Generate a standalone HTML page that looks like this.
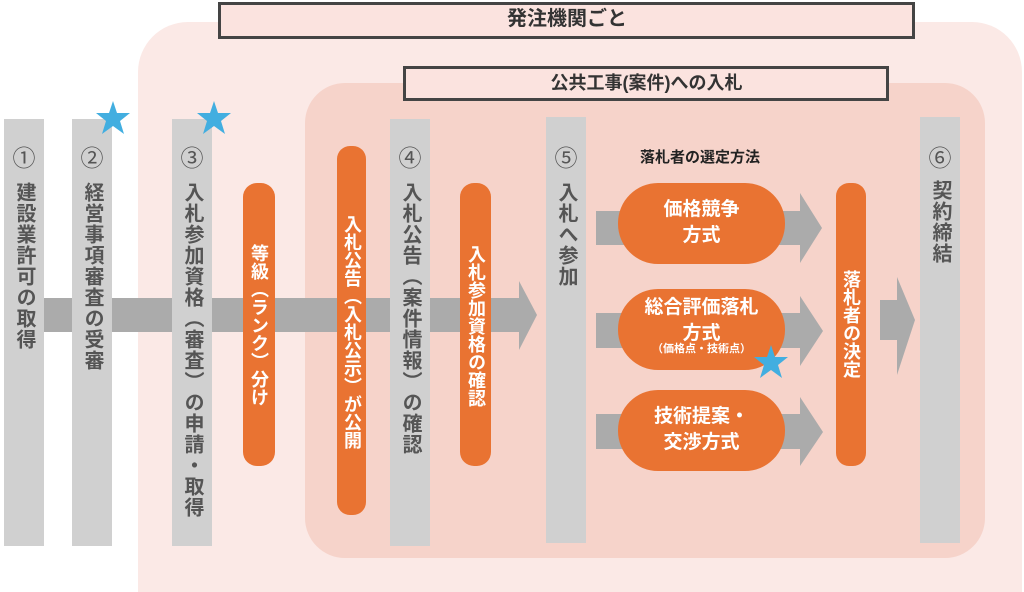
<!DOCTYPE html>
<html style="overflow:hidden"><head><meta charset="utf-8"><style>
html,body{margin:0;width:1024px;height:592px;overflow:hidden}
body{position:relative;background:#fff;font-family:"Liberation Sans","Noto Sans CJK JP",sans-serif;}
.a{position:absolute}
.v{position:absolute;writing-mode:vertical-rl;text-orientation:upright;font-weight:bold;white-space:nowrap}
.g{color:#555;font-size:20px;line-height:40px;width:40px;letter-spacing:1px}
.o{color:#fff;font-size:18px;line-height:30px;width:30px}
.n{position:absolute;width:40px;text-align:center;font-size:23px;color:#555;}
.h{position:absolute;color:#fff;font-weight:bold;text-align:center;font-size:19px;line-height:26px}
</style></head><body>
<svg class="a" style="left:0;top:0;display:block" width="1024" height="592">
<path d="M138,592 V72 A50,50 0 0 1 188,22 H972 A50,50 0 0 1 1022,72 V592 Z" fill="#fbe9e6"/>
<rect x="305" y="83" width="680" height="475" rx="40" fill="#f6d3ca"/>
<rect x="219.5" y="3.5" width="694" height="34" fill="#fbe3df" stroke="#444" stroke-width="3"/>
<rect x="404.5" y="67.5" width="483" height="32" fill="#fbe3df" stroke="#444" stroke-width="3"/>
<g fill="#ababab">
<rect x="40" y="298" width="482" height="34"/><polygon points="519,281 537,315 519,350"/>
<rect x="596" y="211" width="206" height="34"/><polygon points="800,193 822,228 800,263"/>
<rect x="596" y="313" width="206" height="35"/><polygon points="800,296 823,331 800,366"/>
<rect x="596" y="414" width="206" height="35"/><polygon points="800,397 823,432 800,466"/>
<rect x="880" y="300" width="20" height="40"/><polygon points="897,277 915,320 897,375"/>
</g>
<g fill="#d0d0d0">
<rect x="4" y="119" width="40" height="427"/>
<rect x="72" y="119" width="40" height="427"/>
<rect x="172" y="119" width="40" height="427"/>
<rect x="390" y="119" width="40" height="427"/>
<rect x="546" y="117" width="40" height="426"/>
<rect x="920" y="117" width="40" height="426"/>
</g>
<g fill="#e97332">
<rect x="243" y="183" width="32" height="283" rx="14"/>
<rect x="337" y="146" width="29" height="369" rx="13"/>
<rect x="460" y="183" width="31" height="283" rx="14"/>
<rect x="836" y="183" width="30" height="283" rx="13"/>
<rect x="618" y="183" width="167" height="81" rx="40"/>
<rect x="618" y="289" width="167" height="81" rx="40"/>
<rect x="618" y="390" width="167" height="81" rx="40"/>
</g>
<g fill="#42aee0">
<polygon points="113,101 117,113 130,113 120,121 124,134 113,126 102,134 106,121 96,113 109,113"/>
<polygon points="214,101 218,113 231,113 221,121 225,134 214,126 203,134 207,121 197,113 210,113"/>
<polygon points="771,345 775,357 788,357 778,365 782,378 771,370 760,378 764,365 754,357 767,357"/>
</g>
</svg>
<div class="a" style="left:219px;top:4px;width:696px;text-align:center;font-size:20px;font-weight:bold;color:#333;line-height:30px">発注機関ごと</div>
<div class="a" style="left:404px;top:68px;width:485px;text-align:center;font-size:18px;font-weight:bold;color:#333;line-height:30px">公共工事(案件)への入札</div>
<div class="n" style="left:4px;top:139px">①</div>
<div class="n" style="left:72px;top:139px">②</div>
<div class="n" style="left:172px;top:139px">③</div>
<div class="n" style="left:390px;top:139px">④</div>
<div class="n" style="left:546px;top:139px">⑤</div>
<div class="n" style="left:920px;top:139px">⑥</div>
<div class="v g" style="left:4px;top:182px">建設業許可の取得</div>
<div class="v g" style="left:72px;top:182px">経営事項審査の受審</div>
<div class="v g" style="left:172px;top:182px">入札参加資格（審査）の申請・取得</div>
<div class="v g" style="left:390px;top:182px">入札公告（案件情報）の確認</div>
<div class="v g" style="left:546px;top:182px">入札へ参加</div>
<div class="v g" style="left:920px;top:180px">契約締結</div>
<div class="v o" style="left:244px;top:244px">等級（ランク）分け</div>
<div class="v o" style="left:337px;top:215px">入札公告（入札公示）が公開</div>
<div class="v o" style="left:461px;top:245px">入札参加資格の確認</div>
<div class="v o" style="left:836px;top:270px">落札者の決定</div>
<div class="a" style="left:620px;top:146px;width:160px;text-align:center;font-size:15px;font-weight:bold;color:#222">落札者の選定方法</div>
<div class="h" style="left:618px;top:197px;width:167px">価格競争<br>方式</div>
<div class="h" style="left:618px;top:295px;width:167px">総合評価落札<br>方式<br><span style="font-size:11px;line-height:12px;display:block;margin-top:-4px">（価格点・技術点）</span></div>
<div class="h" style="left:618px;top:404px;width:167px">技術提案・<br>交渉方式</div>
</body></html>
